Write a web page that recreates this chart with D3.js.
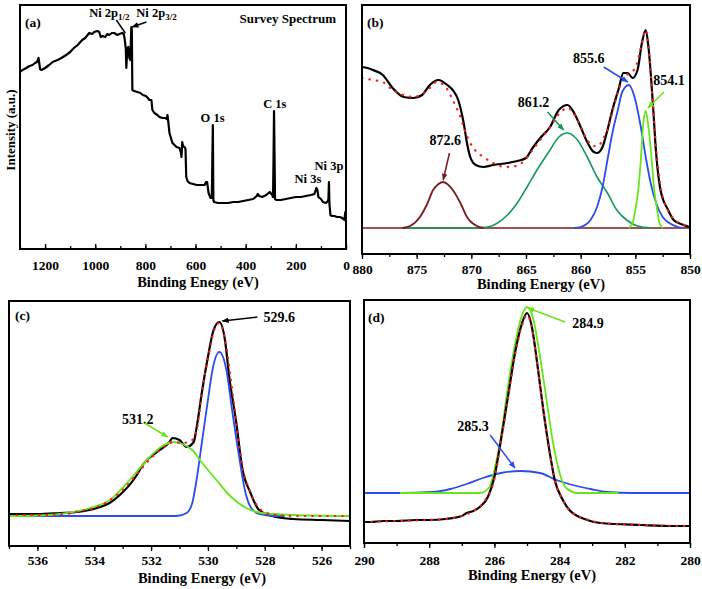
<!DOCTYPE html>
<html><head><meta charset="utf-8">
<script src="https://cdn.jsdelivr.net/npm/d3@7"></script>
<style>body{margin:0;background:#fff}svg{display:block}svg text{font-family:"Liberation Serif","DejaVu Serif",serif !important;font-weight:bold}</style>
</head><body><svg id="c" width="702" height="589" font-family="Liberation Serif" font-weight="bold"></svg>
<script>
// ---------- DATA (binding energy eV, intensity a.u.) ----------
const survey = [[1300,177],[1290,179],[1275,181],[1262,183],[1250,184],[1240,186],[1232,187],[1226,191],[1220,180],[1214,179],[1200,181],[1184,184],[1170,187],[1150,189],[1135,191],[1116,194],[1100,197],[1085,201],[1070,204],[1052,209],[1040,211],[1024,216],[1012,215],[1004,217],[992,218],[984,217],[978,212],[970,213],[960,212],[952,215],[944,214],[934,216],[924,216],[912,214],[904,215],[892,216],[886,215],[882,209],[878,200],[876,181],[872,200],[868,202],[864,191],[860,189],[857,215],[856,222],[854,219],[852,159],[845,158],[832,157],[820,156],[810,154],[798,153],[790,151],[784,149],[776,149],[772,139],[764,136],[752,134],[744,132],[732,131],[720,131],[714,130],[712,134],[709,128],[704,116],[692,106],[684,104],[676,102],[664,101],[658,96],[656,92],[653,107],[650,103],[644,102],[640,100],[637,72],[632,68],[624,66],[610,65],[595,64],[580,64],[564,64],[558,67],[554,67],[548,56],[540,51],[535,51],[533,90],[531,124],[529,49],[526,47],[510,46],[490,46],[470,46],[450,47],[430,47],[410,48],[390,49],[370,50],[356,53],[352,55],[346,53],[334,52],[318,54],[304,57],[294,54],[291,52],[289,90],[287,138],[285,95],[283,50],[278,49],[260,49],[240,50],[220,51],[200,52],[180,52],[160,53],[140,54],[126,55],[118,61],[114,59],[110,52],[100,50],[92,47],[80,46],[72,48],[70,50],[68,67],[66,45],[62,34],[56,33],[46,33],[36,32],[24,32],[16,31],[10,30],[6,29],[3,37],[0,34]];

const niRaw = [[880,161],[879.5,160],[879,158],[878.1,153],[877.2,140],[876.2,131],[875.3,130],[874.5,133],[873.8,143],[873.0,148],[872.2,143],[871.7,138],[871.2,128],[870.7,105],[870.4,85],[870.1,71],[869.6,63],[868.9,61],[868.0,63],[866.7,65],[865.8,67],[865.0,70],[864.4,80],[863.7,90],[862.8,101],[862.0,118],[861.2,123],[860.65,116],[860.0,101],[859.4,86],[858.8,76],[858.5,75],[858.0,81],[857.55,98],[857.1,118],[856.5,140],[856.1,155],[855.7,155],[855.25,150],[854.8,158],[854.4,185],[854.05,198],[853.8,181],[853.4,125],[853.1,75],[852.7,38],[852.0,18],[851.5,8],[850.6,3],[850.1,1]];
const niFit = [[880,150],[879,148],[878.1,146],[877.2,138],[876.2,133],[875.3,131],[874.5,134],[873.8,140],[873.2,146],[872.5,143],[871.7,128],[871.0,111],[870.5,95],[870.1,85],[869.5,76],[868.9,71],[868,65],[866.9,61],[865.9,62],[865.1,68],[864.4,78],[863.7,88],[862.8,101],[862.0,114],[861.2,120],[860.6,114],[860.0,101],[859.4,88],[858.8,82],[858.4,82],[858.0,88],[857.5,100],[857.0,120],[856.5,139],[856.0,151],[855.5,155],[855.0,160],[854.5,180],[854.05,198],[853.7,170],[853.4,125],[853.1,80],[852.7,42],[852.2,22],[851.7,12],[851,5],[850,2]];
const ni8726 = [[876.3,0],[875.6,2],[874.7,11],[874.0,25],[873.5,38],[873.0,44],[872.6,46],[872.2,44],[871.7,38],[871.0,25],[870.4,11],[869.5,2],[868.9,0]];
const ni8612 = [[876.3,0],[870,0],[868.5,1],[867.6,5],[866.7,13],[865.8,25],[864.9,41],[864.0,58],[862.8,78],[862.0,91],[861.2,95],[860.3,88],[859.4,71],[858.5,51],[857.55,35],[856.7,18],[855.8,8],[854.8,2],[853.5,0]];
const ni8556 = [[860.6,0],[860.0,1],[859.1,8],[858.5,21],[858.0,41],[857.55,68],[857.1,95],[856.6,118],[856.2,136],[855.6,143],[855.0,128],[854.5,101],[854.05,71],[853.6,45],[853.1,25],[852.5,11],[851.9,5],[851.1,1],[850.6,0]];
const ni8541 = [[855.6,0],[855.25,5],[855.0,18],[854.7,41],[854.5,68],[854.3,101],[854.05,117],[853.8,101],[853.5,68],[853.3,41],[853.0,18],[852.8,5],[852.5,0]];
const niBase = [[880,0],[850,0]];

const oRaw = [[537,2],[536,2],[535.2,3],[534.6,4],[533.9,8],[533.46,13],[533.1,21],[532.5,41],[532.3,51],[531.8,64],[531.35,74],[531.25,78],[531.0,76],[530.75,69],[530.5,74],[530.4,88],[530.2,126],[530.0,159],[529.8,186],[529.6,194],[529.4,176],[529.25,139],[529.0,93],[528.8,49],[528.5,23],[528.2,6],[527.6,-1],[527,-3],[526,-4],[525,-5]];
const oFit = [[537,1],[536,1],[535,2],[534.5,5],[534,8],[533.5,15],[533,26],[532.5,42],[532,58],[531.5,70],[531.2,74],[530.9,73],[530.6,75],[530.4,85],[530.2,126],[530,157],[529.8,184],[529.6,193],[529.4,177],[529.2,138],[529,94],[528.8,52],[528.5,24],[528.2,8],[527.8,2],[527,0],[526,0],[525,0]];
const o5312 = [[537,0],[536,0.5],[535.2,2],[534.15,8],[533.45,16],[532.75,36],[532.05,59],[531.6,70],[531.2,74],[530.9,72],[530.55,66],[530.2,53],[529.7,36],[529.25,21],[528.65,8],[528.1,3],[527,1],[525,0]];
const o5296 = [[537,0],[531.1,0],[530.75,3],[530.55,13],[530.4,36],[530.2,76],[530.0,116],[529.84,146],[529.6,164],[529.35,146],[529.15,106],[528.9,59],[528.7,26],[528.5,9],[528.2,2],[527.7,0],[527.3,0]];

const cRaw = [[290,21],[289.8,21],[289.4,22],[289,22],[288.4,23],[288,23],[287.5,24],[287,27],[286.85,30],[286.65,32],[286.45,36],[286.2,46],[286.0,66],[285.8,103],[285.6,143],[285.35,193],[285.15,220],[285.0,230],[284.85,216],[284.7,183],[284.5,133],[284.3,90],[284.15,63],[283.9,43],[283.7,33],[283.15,23],[282.75,20],[281.5,18],[280.5,17],[280,17]];
const cFit = [[290,21],[289,22],[288,23],[287.5,24],[287,27],[286.6,33],[286.3,42],[286,64],[285.8,101],[285.6,141],[285.35,191],[285.15,218],[285,228],[284.85,215],[284.7,182],[284.5,132],[284.3,89],[284.15,63],[283.9,43],[283.7,33],[283.2,24],[282.7,20],[281.5,18],[280,17]];
const c2849 = [[288.9,50],[287,50],[286.45,50],[286.15,56],[286.0,73],[285.8,106],[285.6,153],[285.4,193],[285.2,223],[285.0,236],[284.8,223],[284.6,186],[284.4,143],[284.2,100],[284.0,70],[283.8,55],[283.45,50],[282.2,50]];
const c2853 = [[290,50],[288.9,50],[287.9,51],[287.35,54],[286.85,59],[286.35,65],[285.8,70],[285.2,72],[284.6,70],[284.1,63],[283.6,58],[283.05,54],[282.55,51],[281.75,50],[280,50]];

const ticksA = [1200,1000,800,600,400,200,0];
const ticksB = [880,875,870,865,860,855,850];
const ticksC = [536,534,532,530,528,526];
const ticksD = [290,288,286,284,282,280];
const xTitleA = "Binding Enegy (eV)";
const xTitle = "Binding Energy (eV)";

// ---------- COLOURS ----------
const BLACK="#000", RED="#ff1a1a", BROWN="#7a1a1a", DGREEN="#16985c", BLUE="#2b4cf0", LIME="#66e619";
const FONT = '"Liberation Serif","DejaVu Serif",serif';

const svg = d3.select("#c");
const defs = svg.append("defs");
function marker(id, col){
  defs.append("marker").attr("id",id).attr("viewBox","0 0 10 10").attr("refX",9).attr("refY",5)
    .attr("markerWidth",7).attr("markerHeight",7).attr("markerUnits","userSpaceOnUse").attr("orient","auto")
    .append("path").attr("d","M0,1L10,5L0,9z").attr("fill",col);
}
[["mk",BLACK],["mbr",BROWN],["mdg",DGREEN],["mbl",BLUE],["mli",LIME]].forEach(d=>marker(d[0],d[1]));

let clipN=0;
function panel(cfg){
  const g = svg.append("g");
  const x = d3.scaleLinear().domain(cfg.xd).range([cfg.l,cfg.r]);
  const y = d3.scaleLinear().domain(cfg.yd).range([cfg.b,cfg.t]);
  const id="clip"+(clipN++);
  defs.append("clipPath").attr("id",id).append("rect").attr("x",cfg.l).attr("y",cfg.t).attr("width",cfg.r-cfg.l).attr("height",cfg.b-cfg.t);
  const plot = g.append("g").attr("clip-path",`url(#${id})`);
  const minor = d3.range(cfg.xd[1], cfg.xd[0]+1e-9, cfg.minorStep);
  const ax = g.append("g").attr("transform",`translate(0,${cfg.b})`);
  ax.call(d3.axisBottom(x).tickValues(minor).tickSize(cfg.tickDir*3).tickFormat(""));
  const ax2 = g.append("g").attr("transform",`translate(0,${cfg.b})`);
  ax2.call(d3.axisBottom(x).tickValues(cfg.ticks).tickSize(cfg.tickDir*5).tickPadding(cfg.pad).tickFormat(d3.format("d")));
  [ax,ax2].forEach(a=>{a.select(".domain").remove(); a.attr("font-family",FONT).attr("font-weight","bold");
    a.selectAll("line").attr("stroke","#000").attr("stroke-width",1.3);});
  ax2.selectAll("text").attr("y",cfg.labY).attr("dy",0).style("font-size","13.5px").style("font-family",FONT).attr("fill","#000");
  g.append("text").attr("x",cfg.titleX).attr("y",cfg.titleY).attr("text-anchor","middle").style("font-family",FONT).style("font-size","14.5px").text(cfg.title);
  const frame = ()=> g.append("rect").attr("x",cfg.l).attr("y",cfg.t).attr("width",cfg.r-cfg.l).attr("height",cfg.b-cfg.t)
      .attr("fill","none").attr("stroke","#000").attr("stroke-width",2);
  g.append("text").attr("x",cfg.l+cfg.tagDx).attr("y",cfg.t+cfg.tagDy).style("font-family",FONT).style("font-size","13.5px").text(cfg.tag);
  return {g,plot,x,y,frame};
}
function line(p, data, col, w, opts={}){
  const l = d3.line().x(d=>p.x(d[0])).y(d=>p.y(d[1])).curve(opts.curve||d3.curveMonotoneX);
  const path = p.plot.append("path").datum(data).attr("d",l).attr("fill","none").attr("stroke",col)
    .attr("stroke-width",w).attr("stroke-linejoin","round");
  if(opts.dash){ path.attr("stroke-dasharray",opts.dash).attr("stroke-linecap","round"); }
  return path;
}
function label(p, ev, v, txt, size, anchor){
  return p.g.append("text").attr("x",p.x(ev)).attr("y",p.y(v)).attr("text-anchor",anchor||"middle")
    .style("font-family",FONT).style("font-size",size+"px").text(txt);
}
function arrow(p, a, b, col, mk, head=true){
  const ln = p.g.append("line").attr("x1",p.x(a[0])).attr("y1",p.y(a[1])).attr("x2",p.x(b[0])).attr("y2",p.y(b[1]))
    .attr("stroke",col).attr("stroke-width",1.5);
  if(head) ln.attr("marker-end",`url(#${mk})`);
}

// ---------- (a) survey ----------
const A = panel({l:20,r:346,t:5,b:249,xd:[1300,0],yd:[0,244],ticks:ticksA,minorStep:100,tickDir:-1,pad:0,labY:21,
  title:xTitleA,titleX:198,titleY:287,tag:"(a)",tagDx:5,tagDy:22});
line(A, survey, BLACK, 2.2, {curve:d3.curveLinear});
A.frame();
A.g.append("text").attr("x",10).attr("y",130).attr("transform","rotate(-90,10,130)").attr("text-anchor","middle")
  .attr("dy","0.35em").style("font-family",FONT).style("font-size","13px").text("Intensity (a.u.)");
label(A, 232, 226, "Survey Spectrum", 13);
label(A, 532, 127, "O 1s", 12.5);
label(A, 284, 141, "C 1s", 12.5);
label(A, 152, 66, "Ni 3s", 12.5);
label(A, 68, 79, "Ni 3p", 12.5);
const t1 = label(A, 1024, 232, "Ni 2p", 12.5, "start");
t1.append("tspan").attr("dy",3).style("font-size","9px").text("1/2");
const t2 = label(A, 836, 232, "Ni 2p", 12.5, "start");
t2.append("tspan").attr("dy",3).style("font-size","9px").text("3/2");
arrow(A, [916,229], [880,216], BLACK, "mk", false);
arrow(A, [796,227], [853,222], BLACK, "mk");

// ---------- (b) Ni 2p ----------
const B = panel({l:362,r:690,t:5,b:254,xd:[880,850],yd:[-26,223],ticks:ticksB,minorStep:2.5,tickDir:1,pad:0,labY:20,
  title:xTitle,titleX:541,titleY:289,tag:"(b)",tagDx:5,tagDy:22});
line(B, niBase, BROWN, 1.6, {curve:d3.curveLinear});
line(B, niRaw, BLACK, 2.2);
line(B, ni8612, DGREEN, 1.6);
line(B, ni8726, BROWN, 1.8);
line(B, ni8556, BLUE, 1.8);
line(B, ni8541, LIME, 1.8);
line(B, niFit, RED, 2.2, {dash:"0.5,7"});
B.frame();
label(B, 872.39, 83, "872.6", 14);
arrow(B, [872.0,75], [872.57,48], BROWN, "mbr");
label(B, 864.31, 121, "861.2", 14);
arrow(B, [863.03,116], [861.56,98], DGREEN, "mdg");
label(B, 859.27, 165, "855.6", 14);
arrow(B, [857.89,161], [855.69,146], BLUE, "mbl");
label(B, 851.93, 143, "854.1", 14);
arrow(B, [852.39,136], [853.85,120], LIME, "mli");

// ---------- (c) O 1s ----------
const C = panel({l:9,r:350,t:301,b:546,xd:[537,525],yd:[-30,215],ticks:ticksC,minorStep:1,tickDir:1,pad:0,labY:19,
  title:xTitle,titleX:202,titleY:583,tag:"(c)",tagDx:6,tagDy:19});
line(C, oRaw, BLACK, 2.2);
line(C, o5296, BLUE, 1.8);
line(C, o5312, LIME, 1.8);
line(C, oFit, RED, 2.2, {dash:"0.5,7"});
C.frame();
label(C, 527.49, 194, "529.6", 14);
arrow(C, [528.26,199], [529.49,195], BLACK, "mk");
label(C, 532.47, 92, "531.2", 14);
arrow(C, [532.23,93], [531.42,79], LIME, "mli");

// ---------- (d) C 1s ----------
const D = panel({l:364,r:690,t:300,b:543,xd:[290,280],yd:[0,243],ticks:ticksD,minorStep:1,tickDir:1,pad:0,labY:22,
  title:xTitle,titleX:532,titleY:580,tag:"(d)",tagDx:4,tagDy:22});
line(D, c2853, BLUE, 1.8);
line(D, c2849, LIME, 1.8);
line(D, cRaw, BLACK, 2.2);
line(D, cFit, RED, 2.2, {dash:"0.5,7"});
D.frame();
label(D, 283.13, 215, "284.9", 14);
arrow(D, [283.83,221], [284.97,235], LIME, "mli");
label(D, 286.66, 112, "285.3", 14);
arrow(D, [286.13,108], [285.37,75], BLUE, "mbl");
</script></body></html>
